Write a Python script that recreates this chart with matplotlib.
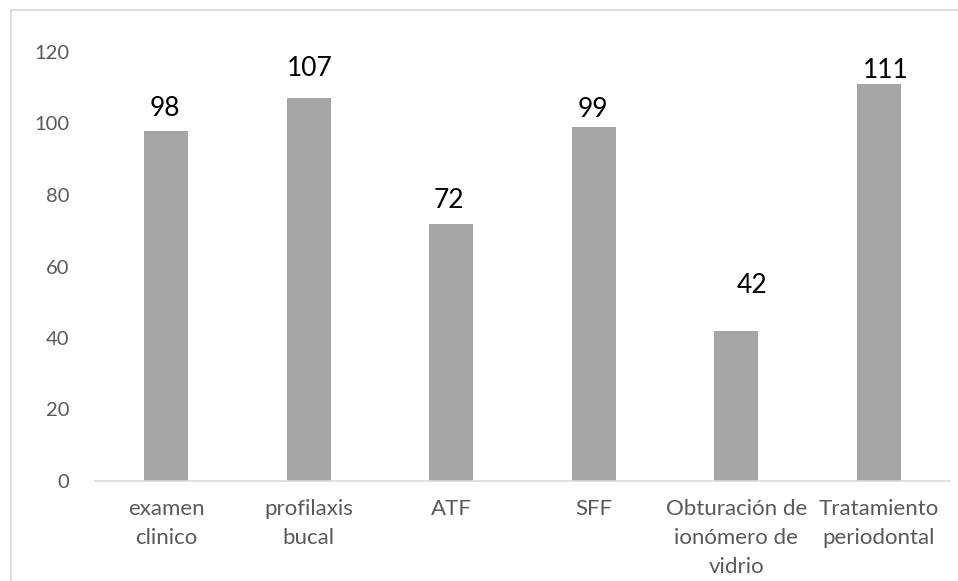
import matplotlib.pyplot as plt
from matplotlib.patches import Rectangle

# Datos del gráfico
categorias = ['examen\nclinico', 'profilaxis\nbucal', 'ATF', 'SFF',
              'Obturación de\nionómero de\nvidrio', 'Tratamiento\nperiodontal']
valores = [98, 107, 72, 99, 42, 111]
ticks_y = [0, 20, 40, 60, 80, 100, 120]

# Desplazamiento de cada etiqueta de datos (puntos), como en el original
desp_x = [-0.7, 0.7, -1.4, -0.7, 11.5, 5.0]
desp_y = [10.8, 16.5, 11.5, 7.2, 27.4, 4.3]

plt.rcParams['font.family'] = ['Lato', 'DejaVu Sans']

fig = plt.figure(figsize=(9.58, 5.81), dpi=100)
ax = fig.add_axes([95 / 958, 100 / 581, 855 / 958, 429 / 581])

x = range(len(valores))
ax.bar(x, valores, width=0.31, color='#A5A5A5', zorder=2)

# Etiquetas de datos encima de las barras
for xi, v, dx, dy in zip(x, valores, desp_x, desp_y):
    ax.annotate(str(v), (xi, v), xytext=(dx, dy), textcoords='offset points',
                ha='center', va='baseline', fontsize=19, color='black')

ax.set_xlim(-0.5, len(valores) - 0.5)
ax.set_ylim(0, 120)
ax.set_yticks(ticks_y)
ax.set_xticks(list(x))
ax.set_xticklabels(categorias, linespacing=1.55)

ax.tick_params(axis='y', length=0, pad=18.5, labelsize=14.5, labelcolor='#595959')
ax.tick_params(axis='x', length=0, pad=13, labelsize=16, labelcolor='#595959')

for lado in ['top', 'right', 'left']:
    ax.spines[lado].set_visible(False)
ax.spines['bottom'].set_color('#D9D9D9')
ax.spines['bottom'].set_linewidth(1.2)

# Borde del área del gráfico
fig.patches.append(Rectangle((11 / 958, -0.05), 1.0, 1.05 - 10 / 581,
                             transform=fig.transFigure, fill=False,
                             edgecolor='#D9D9D9', linewidth=1.2))

plt.savefig('out.png', dpi=100)
